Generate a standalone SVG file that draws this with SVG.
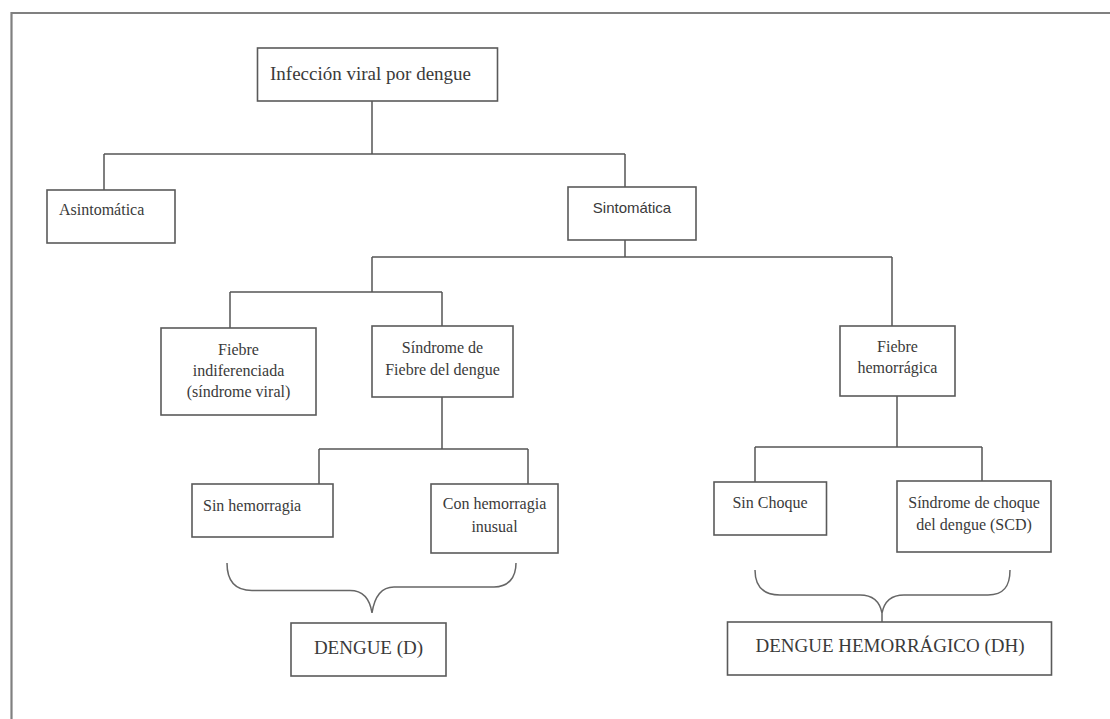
<svg xmlns="http://www.w3.org/2000/svg" width="1110" height="719" viewBox="0 0 1110 719">
  <style>
    .frame { fill: none; stroke: #808080; stroke-width: 2.2; }
    .box { fill: #ffffff; stroke: #5a5a5a; stroke-width: 1.6; }
    .link { fill: none; stroke: #555555; stroke-width: 1.5; }
    .brace { fill: none; stroke: #666666; stroke-width: 1.5; }
    .serif { font-family: "Liberation Serif", "Times New Roman", serif; fill: #3a3a3a; }
    .sans { font-family: "Liberation Sans", Arial, sans-serif; fill: #3a3a3a; }
    .s16 { font-size: 16px; }
    .s19 { font-size: 19px; }
    .mid { text-anchor: middle; }
  </style>
  <rect x="0" y="0" width="1110" height="719" fill="#ffffff"/>

  <!-- page frame: only top and left edges are visible -->
  <path class="frame" d="M11.5,719 L11.5,13 L1110,13"/>

  <!-- connectors -->
  <g id="connectors">
    <path class="link" d="M372,101 L372,154 M104,154 L625,154 M104,154 L104,190 M625,154 L625,187"/>
    <path class="link" d="M625,240 L625,257 M372,257 L892,257 M372,257 L372,292 M892,257 L892,326"/>
    <path class="link" d="M230,292 L442,292 M230,292 L230,328 M442,292 L442,326"/>
    <path class="link" d="M442,397 L442,449 M319,449 L528,449 M319,449 L319,484 M528,449 L528,484"/>
    <path class="link" d="M897,396 L897,447 M755,447 L982,447 M755,447 L755,482 M982,447 L982,481"/>
    <path class="brace" d="M227,563 C227,582 236,590.5 252,590.5 L350,590.5 C364,590.5 370,600 372,613 C374,600 380,587 394,587 L494,587 C508,587 516,578 516,563"/>
    <path class="brace" d="M755,570 C755,588 764,595 780,595 L860,595 C874,595 880,603 882,613 L882,622 M882,613 C884,603 890,595 904,595 L988,595 C1004,595 1010,586 1010,570"/>
  </g>

  <g id="infeccion">
    <rect class="box" x="257.5" y="48" width="240" height="53"/>
    <text class="serif s19" x="270" y="80">Infección viral por dengue</text>
  </g>

  <g id="asintomatica">
    <rect class="box" x="47" y="190" width="128" height="53"/>
    <text class="serif s16" x="59" y="215">Asintomática</text>
  </g>

  <g id="sintomatica">
    <rect class="box" x="568" y="187" width="128" height="53"/>
    <text class="sans mid" x="632" y="213" font-size="15">Sintomática</text>
  </g>

  <g id="fiebre-indiferenciada">
    <rect class="box" x="161" y="328" width="155" height="87"/>
    <text class="serif s16 mid" x="238.5" y="355">Fiebre</text>
    <text class="serif s16 mid" x="238.5" y="376">indiferenciada</text>
    <text class="serif s16 mid" x="238.5" y="397">(síndrome viral)</text>
  </g>

  <g id="sindrome-fiebre">
    <rect class="box" x="372" y="326" width="141" height="71"/>
    <text class="serif s16 mid" x="442.5" y="353">Síndrome de</text>
    <text class="serif s16 mid" x="442.5" y="375">Fiebre del dengue</text>
  </g>

  <g id="fiebre-hemorragica">
    <rect class="box" x="840" y="326" width="115" height="70"/>
    <text class="serif s16 mid" x="897.5" y="352">Fiebre</text>
    <text class="serif s16 mid" x="897.5" y="373">hemorrágica</text>
  </g>

  <g id="sin-hemorragia">
    <rect class="box" x="192" y="484" width="141" height="53"/>
    <text class="serif s16" x="203" y="511">Sin hemorragia</text>
  </g>

  <g id="con-hemorragia">
    <rect class="box" x="431" y="484" width="127" height="69"/>
    <text class="serif s16 mid" x="494.5" y="509">Con hemorragia</text>
    <text class="serif s16 mid" x="494.5" y="532">inusual</text>
  </g>

  <g id="sin-choque">
    <rect class="box" x="714" y="482" width="112.5" height="53"/>
    <text class="serif s16 mid" x="770" y="508">Sin Choque</text>
  </g>

  <g id="sindrome-choque">
    <rect class="box" x="897" y="481" width="154" height="71"/>
    <text class="serif s16 mid" x="974" y="508">Síndrome de choque</text>
    <text class="serif s16 mid" x="974" y="530">del dengue (SCD)</text>
  </g>

  <g id="dengue">
    <rect class="box" x="291" y="623" width="155" height="53"/>
    <text class="serif s19 mid" x="368.5" y="654">DENGUE (D)</text>
  </g>

  <g id="dengue-hemorragico">
    <rect class="box" x="727.5" y="622" width="324" height="53"/>
    <text class="serif s19 mid" x="890" y="652">DENGUE HEMORRÁGICO (DH)</text>
  </g>
</svg>
